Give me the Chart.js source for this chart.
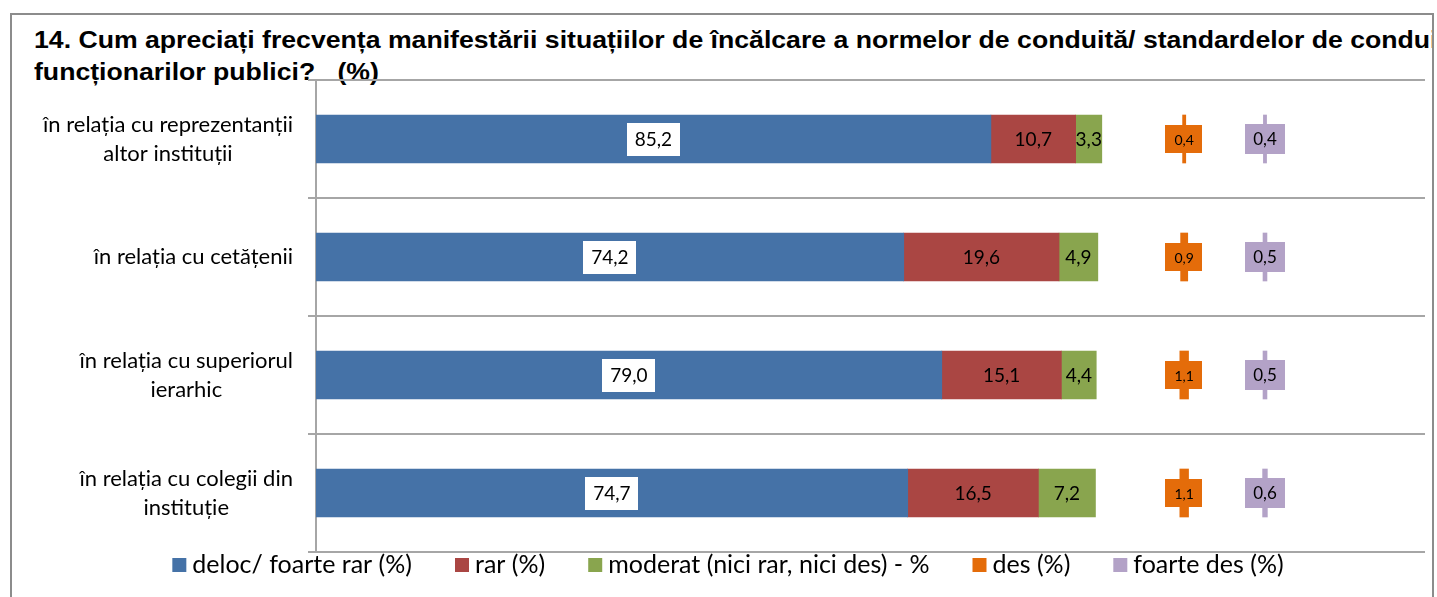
<!DOCTYPE html>
<html>
<head>
<meta charset="utf-8">
<script src="https://cdn.jsdelivr.net/npm/chart.js@4"></script>
<style>
  body { margin: 0; background: #fff; }
  #frame {
    position: absolute; left: 10px; top: 13px; width: 1420px; height: 620px;
    border: 2px solid #8c8c8c; border-bottom: none; overflow: hidden;
  }
  #title {
    position: absolute; left: 22px; top: 9px; white-space: nowrap;
    font: bold 24px "Liberation Sans", Arial, sans-serif; line-height: 32px; color: #000;
    transform: scaleX(1.11); transform-origin: 0 0;
  }
  #chart { position: absolute; left: 0; top: 0; }
</style>
</head>
<body>
<div id="frame">
  <div id="title">14. Cum apreciați frecvența manifestării situațiilor de încălcare a normelor de conduită/ standardelor de conduită ale<br>funcționarilor publici?&nbsp;&nbsp;&nbsp;(%)</div>
</div>
<canvas id="chart" width="1437" height="597"></canvas>
<script>
// ==================== DATA ====================
const categories = [
    ['în relația cu reprezentanții', 'altor instituții'],
    ['în relația cu cetățenii'],
    ['în relația cu superiorul', 'ierarhic'],
    ['în relația cu colegii din', 'instituție']
];
const seriesNames = ['deloc/ foarte rar (%)', 'rar (%)', 'moderat (nici rar, nici des) - %', 'des (%)', 'foarte des (%)'];
const delocValues = [85.2, 74.2, 79.0, 74.7];
const rarValues = [10.7, 19.6, 15.1, 16.5];
const moderatValues = [3.3, 4.9, 4.4, 7.2];
const desValues = [0.4, 0.9, 1.1, 1.1];
const foarteDesValues = [0.4, 0.5, 0.5, 0.6];

// layout: where the two small series sit on the value axis (moved away from the stack)
const AXIS_MAX = 140;
const DES_AT = 109.6;
const FOARTE_DES_AT = 119.8;

const FONT = 'Lato, "Open Sans", sans-serif';
const GRID = '#a6a6a6';

// ==================== HELPERS ====================
const fmt = v => v.toFixed(1).replace('.', ',');
const stackAfter = (values, ...below) =>
    values.map((v, i) => {
        const start = below.reduce((s, arr) => s + arr[i], 0);
        return [start, start + v];
    });
const around = (values, at) => values.map(v => [at - v / 2, at + v / 2]);

// ==================== PLUGINS ====================
const valueLabels = {
    id: 'valueLabels',
    afterDatasetsDraw(chart) {
        const ctx = chart.ctx;
        chart.data.datasets.forEach((ds, di) => {
            const meta = chart.getDatasetMeta(di);
            meta.data.forEach((bar, i) => {
                const text = fmt(ds.values[i]);
                const cx = (bar.x + bar.base) / 2;
                ctx.save();
                ctx.font = ds.labelSize + 'px ' + FONT;
                const w = ctx.measureText(text).width;
                if (ds.labelBox) {
                    const bw = w + ds.boxPad * 2, bh = ds.boxH;
                    ctx.fillStyle = ds.labelBox;
                    ctx.fillRect(Math.round(cx - bw / 2), Math.round(bar.y - bh / 2), Math.round(bw), bh);
                }
                ctx.fillStyle = '#000';
                ctx.textAlign = 'center';
                ctx.textBaseline = 'middle';
                ctx.fillText(text, cx, bar.y + 1);
                ctx.restore();
            });
        });
    }
};

const sideLabels = {
    id: 'sideLabels',
    afterDraw(chart) {
        const ctx = chart.ctx;
        const y = chart.scales.y;
        const right = chart.chartArea.left - 23;
        const lineH = 29;
        ctx.save();
        ctx.font = '22px ' + FONT;
        ctx.fillStyle = '#000';
        ctx.textAlign = 'center';
        ctx.textBaseline = 'middle';
        categories.forEach((lines, i) => {
            const maxW = Math.max(...lines.map(l => ctx.measureText(l).width));
            const cx = right - maxW / 2;
            const cy = y.getPixelForValue(i);
            lines.forEach((l, k) => {
                ctx.fillText(l, cx, cy + (k - (lines.length - 1) / 2) * lineH);
            });
        });
        ctx.restore();
    }
};

const bottomLegend = {
    id: 'bottomLegend',
    afterDraw(chart) {
        const ctx = chart.ctx;
        const box = 14, gap = 6, spacing = 43;
        const ly = chart.chartArea.bottom + 13;
        ctx.save();
        ctx.font = '25px ' + FONT;
        ctx.textBaseline = 'middle';
        const items = chart.data.datasets.map(ds => ({ text: ds.label, color: ds.backgroundColor, w: ctx.measureText(ds.label).width }));
        const total = items.reduce((s, it) => s + box + gap + it.w, 0) + spacing * (items.length - 1);
        let x = 728 - total / 2;
        items.forEach(it => {
            ctx.fillStyle = it.color;
            ctx.fillRect(x, ly - box / 2, box, box);
            ctx.fillStyle = '#000';
            ctx.fillText(it.text, x + box + gap, ly);
            x += box + gap + it.w + spacing;
        });
        ctx.restore();
    }
};

// ==================== CHART ====================
const common = { grouped: false, borderWidth: 0, barThickness: 48, boxPad: 8 };

new Chart(document.getElementById('chart').getContext('2d'), {
    type: 'bar',
    data: {
        labels: categories.map(c => c.join(' ')),
        datasets: [
            { ...common, label: seriesNames[0], data: stackAfter(delocValues), values: delocValues,
              backgroundColor: '#4572a7', labelBox: '#ffffff', labelSize: 19, boxH: 33 },
            { ...common, label: seriesNames[1], data: stackAfter(rarValues, delocValues), values: rarValues,
              backgroundColor: '#aa4643', labelBox: null, labelSize: 19 },
            { ...common, label: seriesNames[2], data: stackAfter(moderatValues, delocValues, rarValues), values: moderatValues,
              backgroundColor: '#89a54e', labelBox: null, labelSize: 19 },
            { ...common, label: seriesNames[3], data: around(desValues, DES_AT), values: desValues,
              backgroundColor: '#e46c0a', labelBox: '#e46c0a', labelSize: 14, boxH: 28, boxPad: 9 },
            { ...common, label: seriesNames[4], data: around(foarteDesValues, FOARTE_DES_AT), values: foarteDesValues,
              backgroundColor: '#b3a2c7', labelBox: '#b3a2c7', labelSize: 17, boxH: 30 }
        ]
    },
    options: {
        indexAxis: 'y',
        responsive: false,
        animation: false,
        layout: { padding: { top: 80, right: 12, bottom: 45, left: 0 } },
        scales: {
            x: { display: false, min: 0, max: AXIS_MAX },
            y: {
                afterFit: s => { s.width = 316; },
                ticks: { display: false },
                grid: { color: GRID, lineWidth: 2, tickLength: 8 },
                border: { color: GRID, width: 2 }
            }
        },
        plugins: {
            legend: { display: false },
            tooltip: { enabled: false }
        }
    },
    plugins: [valueLabels, sideLabels, bottomLegend]
});
</script>
</body>
</html>
